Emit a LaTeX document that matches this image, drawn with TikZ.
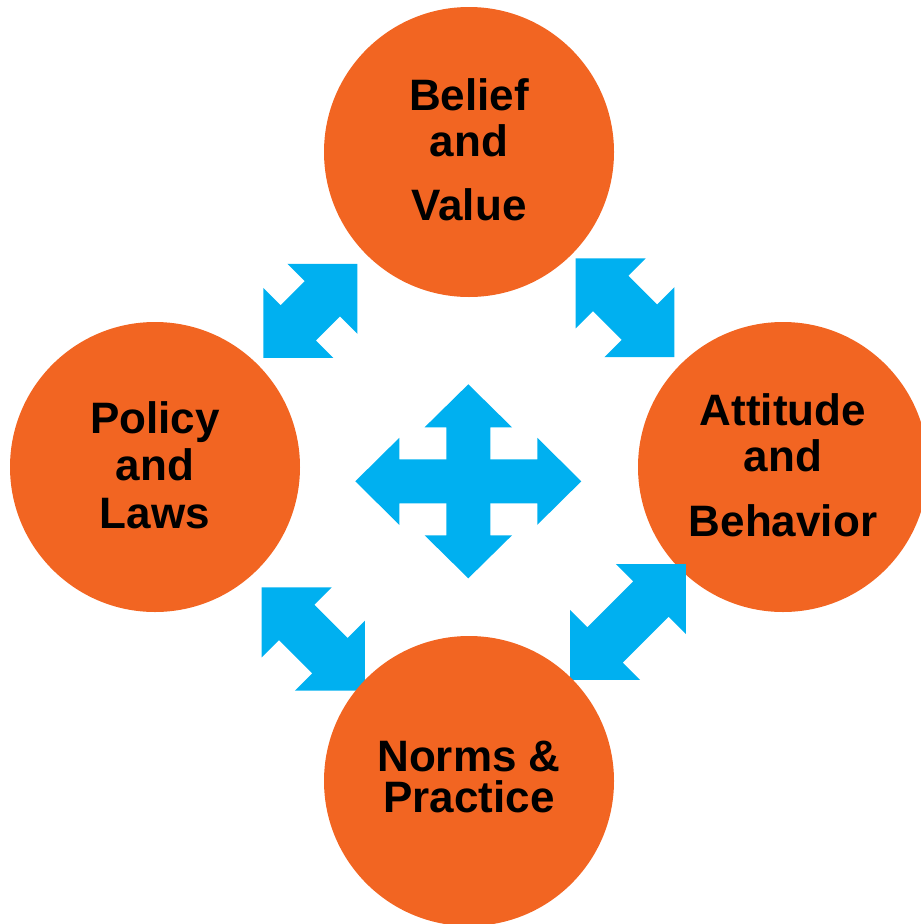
\documentclass[tikz,border=0pt]{standalone}
\usepackage{fontspec}
\setmainfont{Liberation Sans}
\usepackage{xcolor}
\usepackage{tikz}
\definecolor{bubbleorange}{HTML}{F26522}
\definecolor{arrowblue}{HTML}{00B0F0}
\begin{document}
\begin{tikzpicture}[x=1pt, y=-1pt]
% Define styles
\tikzstyle{bubble} = [circle, fill=bubbleorange, minimum size=290pt, inner sep=0pt, align=center, font=\bfseries\fontsize{44}{46.7}\selectfont]
\tikzset{pics/dblarrow/.style n args={4}{code={
  \fill[arrowblue] (-#1,0) -- (-#1+#2,#3) -- (-#1+#2,#4) -- (#1-#2,#4) -- (#1-#2,#3) -- (#1,0)
    -- (#1-#2,-#3) -- (#1-#2,-#4) -- (-#1+#2,-#4) -- (-#1+#2,-#3) -- cycle;
}}}
\useasboundingbox (0,0) rectangle (921,924);
% Define nodes
\node[bubble, text depth=5.5pt] (belief) at (469,152) {Belief\\and\\[16.6pt]Value};
\node[bubble, text depth=3.9pt] (policy) at (155,467) {Policy\\and\\[1.6pt]Laws};
\node[bubble, text depth=3.8pt] (attitude) at (783,467) {Attitude\\and\\[18.3pt]Behavior};
% Arrows between the bubbles
\pic[rotate=45] at (310.3,310.8) {dblarrow={66.5}{49.5}{49.5}{25}};
\pic[rotate=-45] at (625,307.8) {dblarrow={69.8}{49.5}{49.5}{25}};
\pic[rotate=-45] at (313.3,639) {dblarrow={73}{49.5}{49.5}{25}};
\pic[rotate=45] at (628,622) {dblarrow={82}{49.5}{49.5}{25}};
% Cross in the middle
\pic at (468.3,481.3) {dblarrow={113}{44}{43.5}{22}};
\pic[rotate=90] at (468.3,481.3) {dblarrow={97}{43}{43.7}{22}};
\node[bubble, text depth=8.5pt, font=\bfseries\fontsize{44}{41.6}\selectfont] (norms) at (469,781) {Norms \&\\Practice};
\end{tikzpicture}
\end{document}
